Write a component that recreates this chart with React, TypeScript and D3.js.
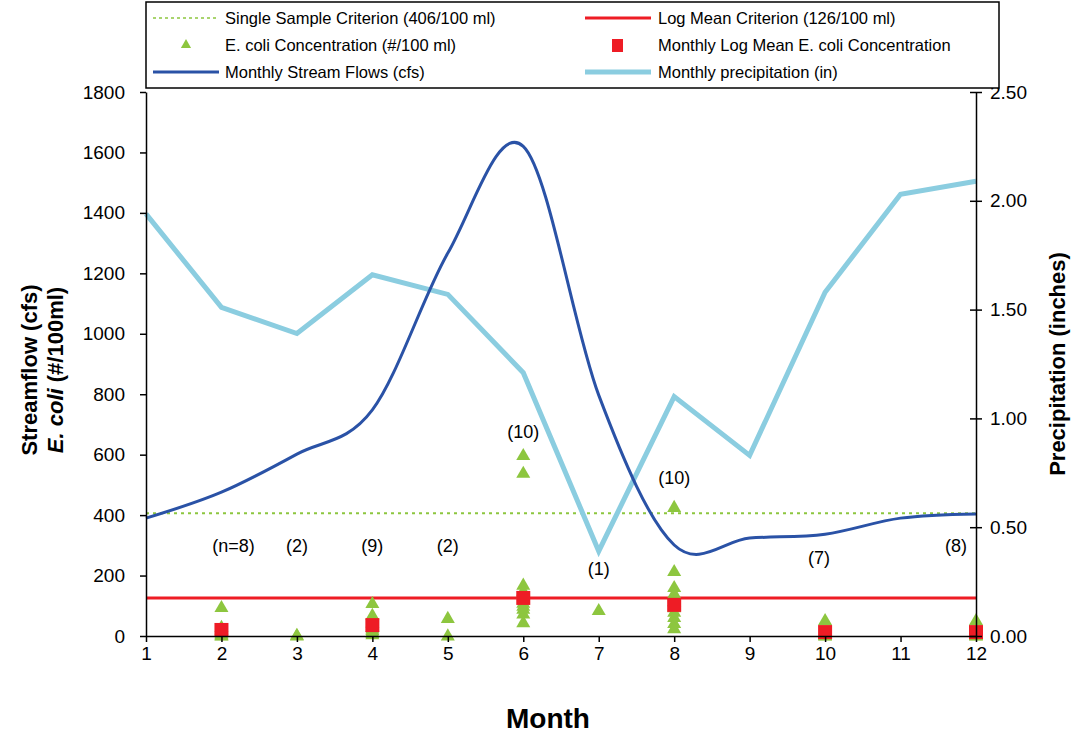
import { useRef, useEffect } from 'react';
import * as d3 from 'd3';

// monthly values
const months = [1, 2, 3, 4, 5, 6, 7, 8, 9, 10, 11, 12];
const streamflow = [390, 476, 602, 748, 1267, 1620, 797, 301, 324, 337, 390, 404];
const precipitation = [1.94, 1.51, 1.39, 1.66, 1.57, 1.21, 0.39, 1.1, 0.83, 1.58, 2.03, 2.09];

// individual E. coli samples [month, value]
const ecoliSamples = [
  [2, 96], [2, 22], [2, 8], [2, 3], [2, 2], [2, 12], [2, 5], [2, 30],
  [3, 4], [3, 2],
  [4, 109], [4, 70], [4, 45], [4, 30], [4, 20], [4, 10], [4, 6], [4, 14], [4, 25],
  [5, 60], [5, 2],
  [6, 599], [6, 540], [6, 170], [6, 140], [6, 100], [6, 75], [6, 46], [6, 110], [6, 150], [6, 90],
  [7, 86],
  [8, 427], [8, 215], [8, 162], [8, 142], [8, 115], [8, 63], [8, 43], [8, 26], [8, 80], [8, 95],
  [10, 53], [10, 3], [10, 2], [10, 5], [10, 8], [10, 4], [10, 10],
  [12, 53], [12, 3], [12, 2], [12, 5], [12, 8], [12, 4], [12, 10], [12, 6],
];
const logMeanMonths = [2, 4, 6, 8, 10, 12];
const logMeanValues = [20, 36, 126, 103, 13, 13];

// sample count labels [month, label, y value]
const countLabels = [
  [2, '(n=8)', 280], [3, '(2)', 280], [4, '(9)', 280], [5, '(2)', 280],
  [6, '(10)', 660], [7, '(1)', 204], [8, '(10)', 506], [10, '(7)', 240], [12, '(8)', 280],
];

const singleSample = 406;
const logMeanCrit = 126;

const leftTicks = [0, 200, 400, 600, 800, 1000, 1200, 1400, 1600, 1800];
const rightTicks = [0, 0.5, 1, 1.5, 2, 2.5];

export default function App() {
  const svgRef = useRef(null);

  useEffect(() => {
    const w = 1073;
    const h = 734;
    const svg = d3.select(svgRef.current);
    svg.selectAll('*').remove();
    svg.attr('width', w).attr('height', h).style('font-family', 'Liberation Sans, Arial, sans-serif');

    const x0 = 146;
    const x1 = 976;
    const yTop = 92;
    const yBot = 636;

    const xScale = d3.scaleLinear().domain([1, 12]).range([x0, x1]);
    const yScale = d3.scaleLinear().domain([0, 1800]).range([yBot, yTop]);
    const y2Scale = d3.scaleLinear().domain([0, 2.5]).range([yBot, yTop]);

    const green = '#8dc63f';
    const red = '#ee1c25';
    const darkBlue = '#2a52a6';
    const lightBlue = '#8bcde0';

    // criteria lines
    svg.append('line')
      .attr('x1', x0).attr('x2', x1)
      .attr('y1', yScale(singleSample)).attr('y2', yScale(singleSample))
      .attr('stroke', green).attr('stroke-width', 2).attr('stroke-dasharray', '3,4');

    // precipitation
    const precipLine = d3.line()
      .x((d, i) => xScale(months[i]))
      .y((d) => y2Scale(d));
    svg.append('path')
      .datum(precipitation)
      .attr('d', precipLine)
      .attr('fill', 'none')
      .attr('stroke', lightBlue)
      .attr('stroke-width', 5);

    // streamflow
    const flowLine = d3.line()
      .x((d, i) => xScale(months[i]))
      .y((d) => yScale(d))
      .curve(d3.curveCatmullRom.alpha(0));
    svg.append('path')
      .datum(streamflow)
      .attr('d', flowLine)
      .attr('fill', 'none')
      .attr('stroke', darkBlue)
      .attr('stroke-width', 3);

    svg.append('line')
      .attr('x1', x0).attr('x2', x1)
      .attr('y1', yScale(logMeanCrit)).attr('y2', yScale(logMeanCrit))
      .attr('stroke', red).attr('stroke-width', 3);

    // triangles
    const tri = d3.symbol().type(d3.symbolTriangle).size(85);
    svg.selectAll()
      .data(ecoliSamples)
      .enter()
      .append('path')
      .attr('d', tri)
      .attr('transform', (d) => `translate(${xScale(d[0])},${yScale(d[1]) + 1})`)
      .attr('fill', green);

    svg.selectAll()
      .data(logMeanValues)
      .enter()
      .append('rect')
      .attr('x', (d, i) => xScale(logMeanMonths[i]) - 7)
      .attr('y', (d) => yScale(d) - 7)
      .attr('width', 14)
      .attr('height', 14)
      .attr('fill', red);

    // sample counts
    svg.selectAll()
      .data(countLabels)
      .enter()
      .append('text')
      .attr('x', (d) => xScale(d[0]) + (d[0] === 2 ? 12 : d[0] === 10 ? -6 : d[0] === 12 ? -20 : 0))
      .attr('y', (d) => yScale(d[2]) + 1)
      .attr('text-anchor', 'middle')
      .attr('font-size', 18)
      .text((d) => d[1]);

    // axes
    const yAxis = d3.axisLeft(yScale).tickValues(leftTicks).tickFormat(d3.format('d')).tickSize(6).tickSizeOuter(0);
    const gl = svg.append('g').attr('transform', `translate(${x0},0)`).call(yAxis);
    gl.selectAll('text').attr('font-size', 19).attr('x', -21).attr('fill', '#000');

    const y2Axis = d3.axisRight(y2Scale).tickValues(rightTicks).tickFormat(d3.format('.2f')).tickSize(6).tickSizeOuter(0);
    const gr = svg.append('g').attr('transform', `translate(${x1},0)`).call(y2Axis);
    gr.selectAll('text').attr('font-size', 19).attr('x', 14).attr('fill', '#000');
    gr.selectAll('.tick line').attr('x1', -6);

    const xAxis = d3.axisBottom(xScale).tickValues(months).tickSize(6).tickSizeOuter(0);
    const gb = svg.append('g').attr('transform', `translate(0,${yBot})`).call(xAxis);
    gb.selectAll('text').attr('font-size', 19).attr('y', 11).attr('fill', '#000');

    svg.selectAll('.domain').attr('stroke', '#000').attr('stroke-width', 1.5);
    svg.selectAll('.tick line').attr('stroke', '#000').attr('stroke-width', 1.5);

    // axis titles
    svg.append('text')
      .attr('transform', `translate(37,${(yTop + yBot) / 2 + 6}) rotate(-90)`)
      .attr('text-anchor', 'middle')
      .attr('font-size', 22)
      .attr('font-weight', 'bold')
      .text('Streamflow (cfs)');
    const t2 = svg.append('text')
      .attr('transform', `translate(63,${(yTop + yBot) / 2 + 6}) rotate(-90)`)
      .attr('text-anchor', 'middle')
      .attr('font-size', 22)
      .attr('font-weight', 'bold');
    t2.append('tspan').attr('font-style', 'italic').text('E. coli');
    t2.append('tspan').text(' (#/100ml)');

    svg.append('text')
      .attr('transform', `translate(1065,${(yTop + yBot) / 2}) rotate(-90)`)
      .attr('text-anchor', 'middle')
      .attr('font-size', 22)
      .attr('font-weight', 'bold')
      .text('Precipitation (inches)');

    svg.append('text')
      .attr('x', 548)
      .attr('y', 728)
      .attr('text-anchor', 'middle')
      .attr('font-size', 28)
      .attr('font-weight', 'bold')
      .text('Month');

    // legend
    const lg = svg.append('g');
    lg.append('rect')
      .attr('x', 146).attr('y', 2).attr('width', 853).attr('height', 86)
      .attr('fill', '#fff').attr('stroke', '#000').attr('stroke-width', 1.5);
    const items = [
      { col: 0, row: 0, kind: 'dash', color: green, label: 'Single Sample Criterion (406/100 ml)' },
      { col: 1, row: 0, kind: 'line', color: red, width: 3, label: 'Log Mean Criterion (126/100 ml)' },
      { col: 0, row: 1, kind: 'tri', color: green, label: 'E. coli Concentration (#/100 ml)' },
      { col: 1, row: 1, kind: 'sq', color: red, label: 'Monthly Log Mean E. coli Concentration' },
      { col: 0, row: 2, kind: 'line', color: darkBlue, width: 3, label: 'Monthly Stream Flows (cfs)' },
      { col: 1, row: 2, kind: 'line', color: lightBlue, width: 5, label: 'Monthly precipitation (in)' },
    ];
    items.forEach((it) => {
      const sx = it.col === 0 ? 153 : 585;
      const tx = it.col === 0 ? 225 : 658;
      const yy = 18 + it.row * 27;
      if (it.kind === 'dash') {
        lg.append('line').attr('x1', sx).attr('x2', sx + 66).attr('y1', yy).attr('y2', yy)
          .attr('stroke', it.color).attr('stroke-width', 1.5).attr('stroke-dasharray', '3,3');
      } else if (it.kind === 'line') {
        lg.append('line').attr('x1', sx).attr('x2', sx + 66).attr('y1', yy).attr('y2', yy)
          .attr('stroke', it.color).attr('stroke-width', it.width);
      } else if (it.kind === 'tri') {
        lg.append('path').attr('d', d3.symbol().type(d3.symbolTriangle).size(45)())
          .attr('transform', `translate(${sx + 33},${yy})`).attr('fill', it.color);
      } else {
        lg.append('rect').attr('x', sx + 27).attr('y', yy - 6).attr('width', 11).attr('height', 13)
          .attr('fill', it.color);
      }
      lg.append('text').attr('x', tx).attr('y', yy + 6).attr('font-size', 16.5).text(it.label);
    });
  }, []);

  return <svg ref={svgRef} style={{ display: 'block', position: 'absolute', left: 0, top: 0 }}></svg>;
}
